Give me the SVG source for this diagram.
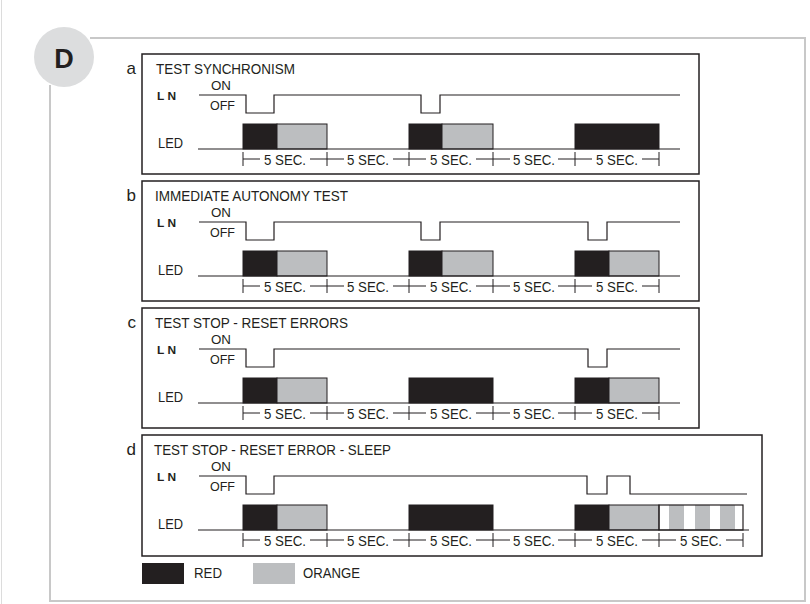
<svg xmlns="http://www.w3.org/2000/svg" width="810" height="604" viewBox="0 0 810 604">
<defs>
<style>
text{font-family:"Liberation Sans",Arial,sans-serif;fill:#231f20}
.frame{fill:none;stroke:#c8c8c8;stroke-width:2}
.panel{fill:#fff;stroke:#231f20;stroke-width:1.5}
.sig{fill:none;stroke:#231f20;stroke-width:1.2}
.red{fill:#231f20;stroke:#231f20;stroke-width:1}
.org{fill:#bcbec0;stroke:#231f20;stroke-width:1}
.rul{fill:none;stroke:#231f20;stroke-width:1}
.title{font-size:14.5px}
.lbl{font-size:17px}
.on{font-size:13.5px}
.ln{font-size:11px;font-weight:bold}
.sec{font-size:14px;text-anchor:middle}
</style>
<g id="rulerBase">
<path class="rul" d="M243,98V112M327,98V112M409,98V112M493,98V112M575,98V112M659,98V112M243,105H260M310,105H344M393,105H426M476,105H510M558,105H592M642,105H659"/>
<text class="sec" x="285" y="111" textLength="42" lengthAdjust="spacingAndGlyphs">5 SEC.</text>
<text class="sec" x="368" y="111" textLength="42" lengthAdjust="spacingAndGlyphs">5 SEC.</text>
<text class="sec" x="451" y="111" textLength="42" lengthAdjust="spacingAndGlyphs">5 SEC.</text>
<text class="sec" x="534" y="111" textLength="42" lengthAdjust="spacingAndGlyphs">5 SEC.</text>
<text class="sec" x="617" y="111" textLength="42" lengthAdjust="spacingAndGlyphs">5 SEC.</text>
</g>
<g id="labels">
<text class="on" x="211" y="36" textLength="20" lengthAdjust="spacingAndGlyphs">ON</text>
<text class="on" x="210" y="56" textLength="25" lengthAdjust="spacingAndGlyphs">OFF</text>
<text class="ln" x="157" y="46" textLength="19" lengthAdjust="spacingAndGlyphs">L N</text>
<text class="on" x="158" y="94" style="font-size:14px" textLength="25" lengthAdjust="spacingAndGlyphs">LED</text>
</g>
</defs>

<line x1="1.5" y1="0" x2="1.5" y2="604" stroke="#dcdcdc" stroke-width="1"/>
<path class="frame" d="M90,38H805V601H50V85"/>
<g id="badge">
<circle cx="64" cy="57" r="30" fill="#dcddde"/>
<text x="64" y="68" font-size="27" font-weight="bold" text-anchor="middle">D</text>
</g>

<g id="panel-a" transform="translate(0,54)">
<rect class="panel" x="142" y="0" width="557" height="120"/>
<text class="lbl" x="136" y="20" text-anchor="end">a</text>
<text class="title" x="156" y="20" textLength="139" lengthAdjust="spacingAndGlyphs">TEST SYNCHRONISM</text>
<use href="#labels"/>
<path class="sig" d="M199,41H246V59H274V41H421V59H440V41H680"/>
<rect class="red" x="243" y="70" width="34" height="25"/>
<rect class="org" x="277" y="70" width="50" height="25"/>
<rect class="red" x="409" y="70" width="33" height="25"/>
<rect class="org" x="442" y="70" width="51" height="25"/>
<rect class="red" x="575" y="70" width="84" height="25"/>
<path class="sig" d="M198,95H680"/>
<use href="#rulerBase"/>
</g>

<g id="panel-b" transform="translate(0,181)">
<rect class="panel" x="142" y="0" width="557" height="120"/>
<text class="lbl" x="136" y="20" text-anchor="end">b</text>
<text class="title" x="155" y="20" textLength="193" lengthAdjust="spacingAndGlyphs">IMMEDIATE AUTONOMY TEST</text>
<use href="#labels"/>
<path class="sig" d="M199,41H246V59H274V41H421V59H440V41H588V59H607V41H680"/>
<rect class="red" x="243" y="70" width="34" height="25"/>
<rect class="org" x="277" y="70" width="50" height="25"/>
<rect class="red" x="409" y="70" width="33" height="25"/>
<rect class="org" x="442" y="70" width="51" height="25"/>
<rect class="red" x="575" y="70" width="34" height="25"/>
<rect class="org" x="609" y="70" width="50" height="25"/>
<path class="sig" d="M198,95H680"/>
<use href="#rulerBase"/>
</g>

<g id="panel-c" transform="translate(0,308)">
<rect class="panel" x="142" y="0" width="557" height="120"/>
<text class="lbl" x="136" y="20" text-anchor="end">c</text>
<text class="title" x="155" y="20" textLength="193" lengthAdjust="spacingAndGlyphs">TEST STOP - RESET ERRORS</text>
<use href="#labels"/>
<path class="sig" d="M199,41H246V59H274V41H588V59H607V41H680"/>
<rect class="red" x="243" y="70" width="34" height="25"/>
<rect class="org" x="277" y="70" width="50" height="25"/>
<rect class="red" x="409" y="70" width="84" height="25"/>
<rect class="red" x="575" y="70" width="34" height="25"/>
<rect class="org" x="609" y="70" width="50" height="25"/>
<path class="sig" d="M198,95H680"/>
<use href="#rulerBase"/>
</g>

<g id="panel-d" transform="translate(0,435)">
<rect class="panel" x="142" y="0" width="620" height="121"/>
<text class="lbl" x="136" y="20" text-anchor="end">d</text>
<text class="title" x="154" y="20" textLength="237" lengthAdjust="spacingAndGlyphs">TEST STOP - RESET ERROR - SLEEP</text>
<use href="#labels"/>
<path class="sig" d="M199,41H246V59H274V41H587V59H607V41H630V59H747"/>
<rect class="red" x="243" y="70" width="34" height="25"/>
<rect class="org" x="277" y="70" width="50" height="25"/>
<rect class="red" x="409" y="70" width="84" height="25"/>
<rect class="red" x="575" y="70" width="34" height="25"/>
<rect class="org" x="609" y="70" width="50" height="25"/>
<rect x="669" y="70" width="15" height="25" fill="#bcbec0"/>
<rect x="695" y="70" width="15" height="25" fill="#bcbec0"/>
<rect x="720" y="70" width="15" height="25" fill="#bcbec0"/>
<rect x="659" y="70" width="84" height="25" fill="none" stroke="#231f20" stroke-width="1.2"/>
<path class="sig" d="M198,95H749"/>
<use href="#rulerBase"/>
<path class="rul" d="M743,98V112M659,105H676M726,105H743"/>
<text class="sec" x="701" y="111" textLength="42" lengthAdjust="spacingAndGlyphs">5 SEC.</text>
</g>

<g id="legend">
<rect x="142" y="563" width="42" height="21" fill="#231f20"/>
<text x="194" y="578" font-size="14" textLength="28" lengthAdjust="spacingAndGlyphs">RED</text>
<rect x="253" y="563" width="42" height="21" fill="#bcbec0"/>
<text x="303" y="578" font-size="14" textLength="57" lengthAdjust="spacingAndGlyphs">ORANGE</text>
</g>
</svg>
